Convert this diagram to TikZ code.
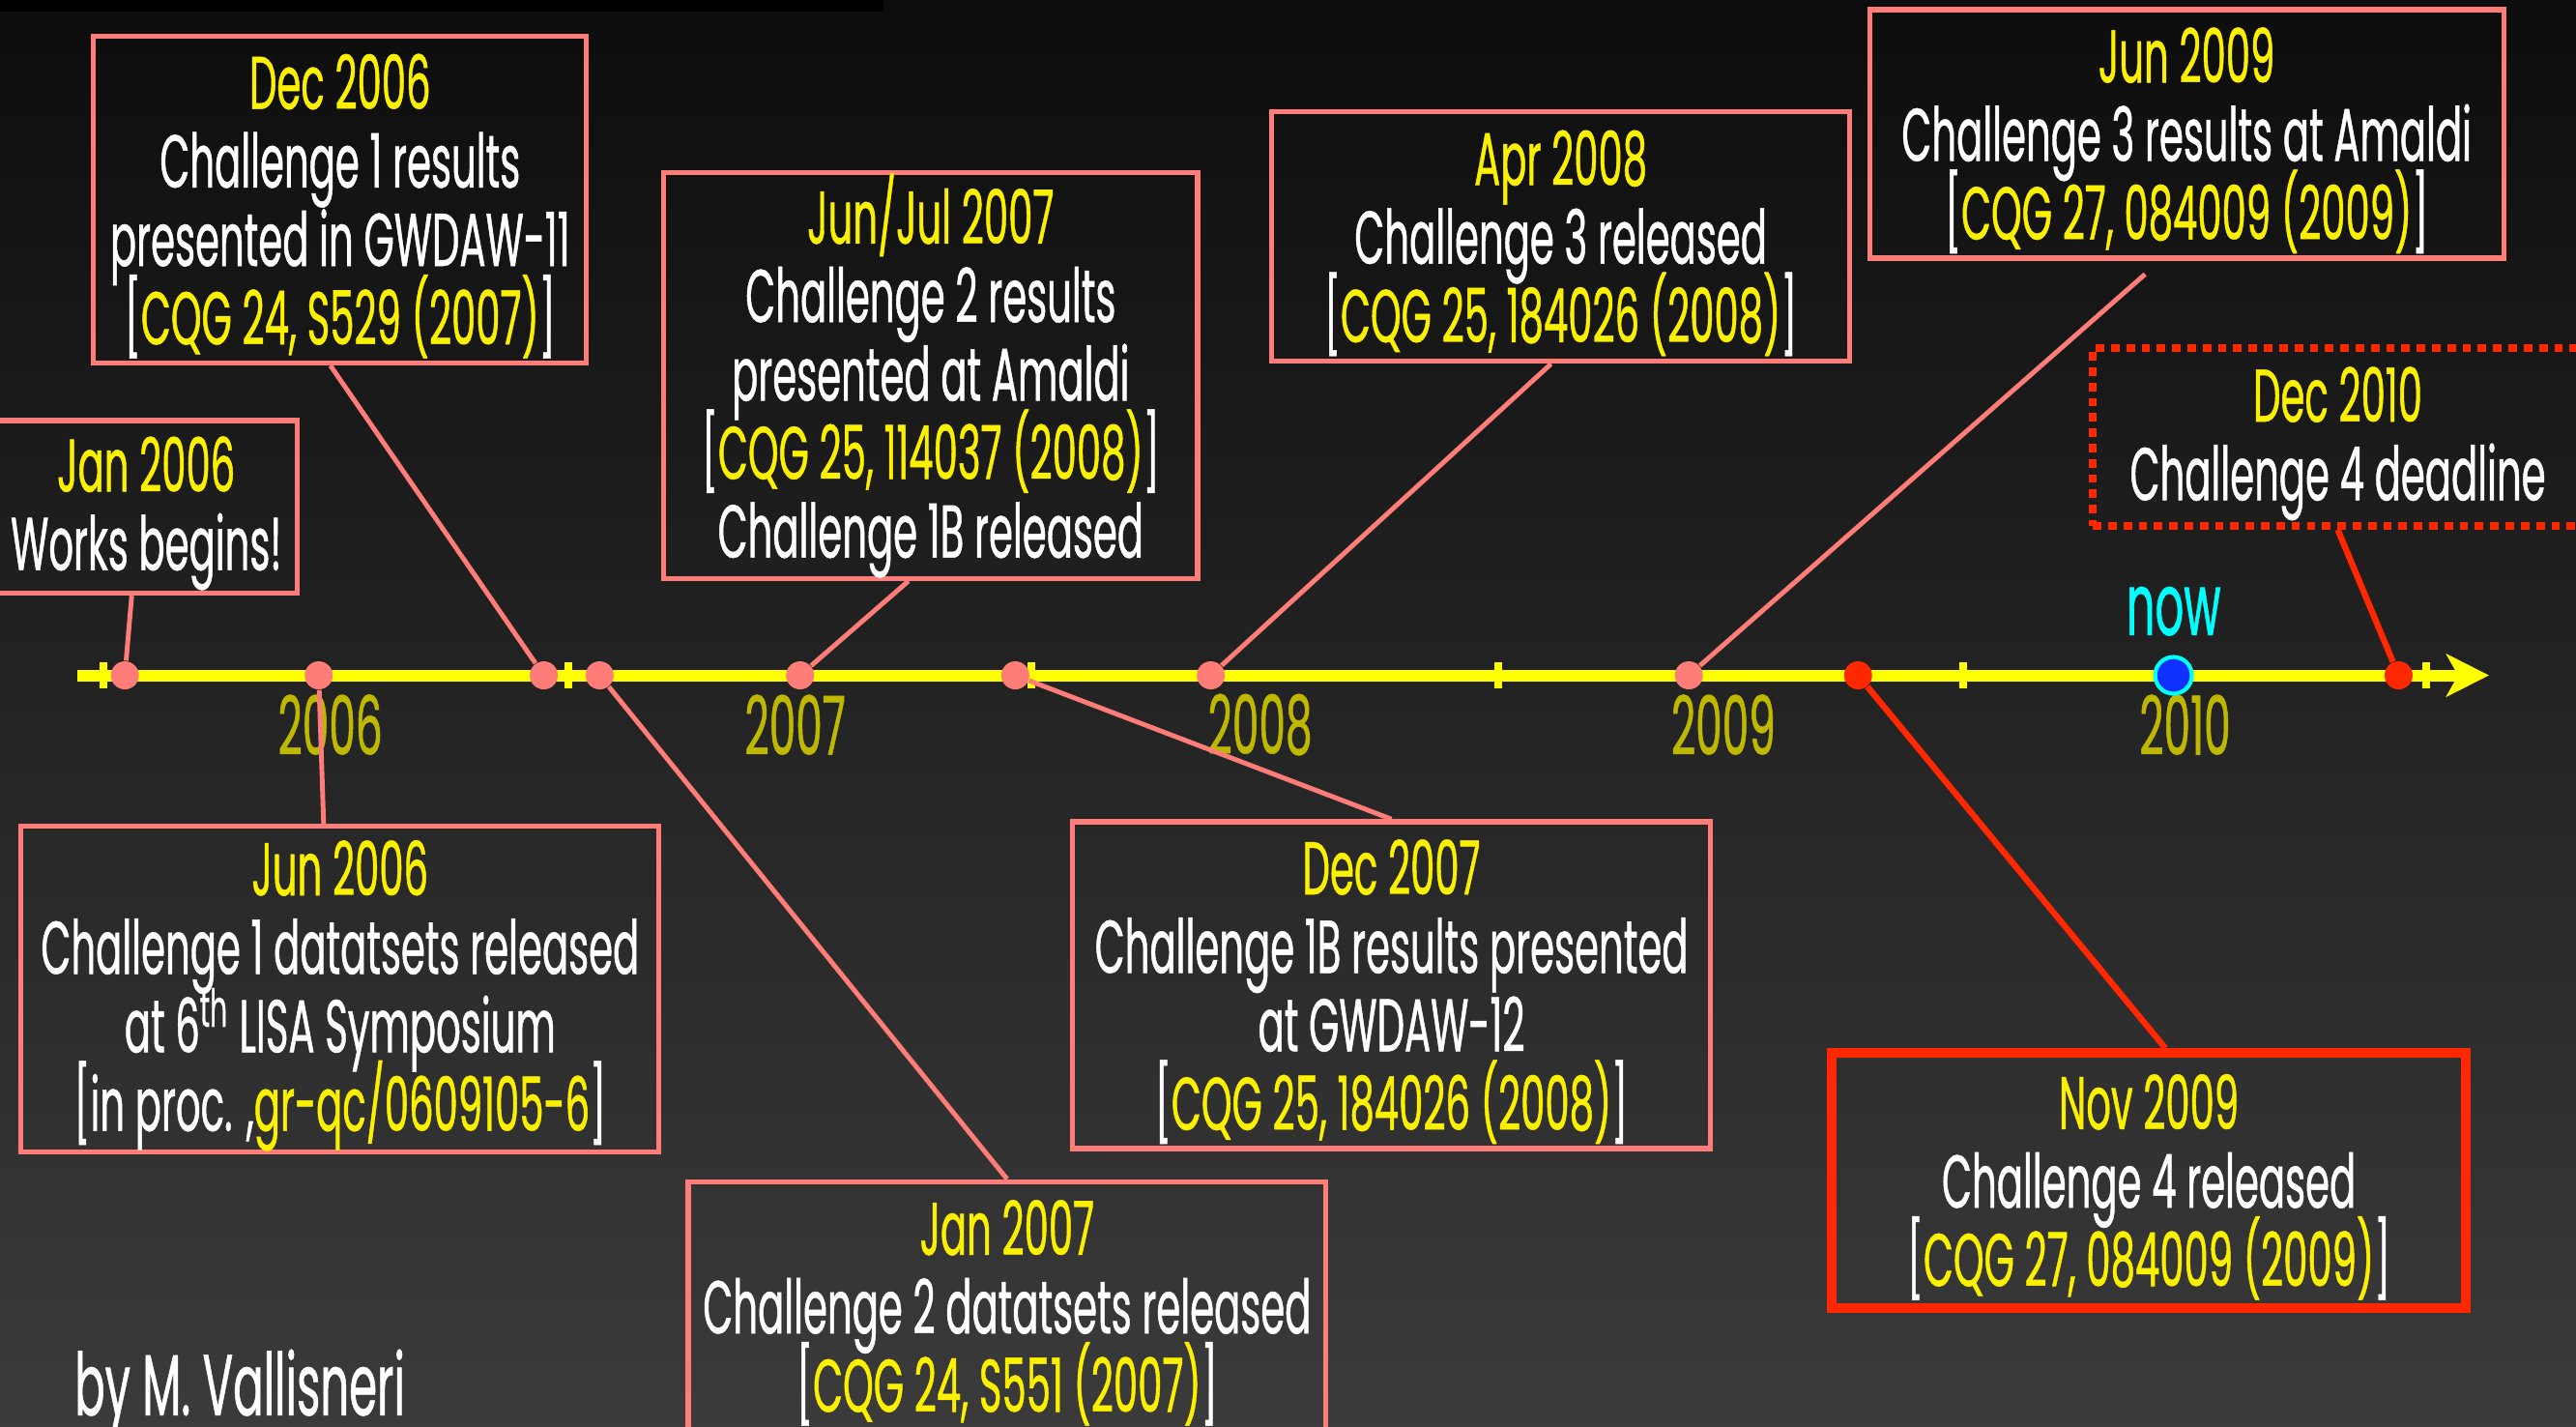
\documentclass[tikz,border=0pt]{standalone}
\usepackage{fontspec}
\setmainfont[FakeStretch=0.52,FakeBold=0.6]{Poppins}
\usetikzlibrary{arrows.meta}
\definecolor{salmon}{RGB}{255,125,120}
\definecolor{hotred}{RGB}{255,40,0}
\definecolor{dateyellow}{RGB}{250,240,0}
\definecolor{axisyellow}{RGB}{255,255,0}
\definecolor{yearcol}{RGB}{190,185,0}
\definecolor{nowblue}{RGB}{16,48,255}
\definecolor{nowcyan}{RGB}{0,255,255}
\newcommand{\yel}[1]{\textcolor{dateyellow}{#1}}
\newcommand{\when}[1]{\rule{0pt}{20pt}\textcolor{dateyellow}{#1}}
\newcommand{\boxfont}{\fontsize{22}{23.1}\selectfont\lineskiplimit=-50pt\relax}

\begin{document}
\begin{tikzpicture}[x=0.017cm,y=-0.017cm]
    \tikzset{every node/.style={font=\boxfont,text=white},
      event/.style={draw=salmon,line width=1.5pt,align=center,inner sep=0pt},
      current/.style={draw=hotred,line width=2.9pt,align=center,inner sep=0pt},
      future/.style={draw=hotred,line width=2.2pt,dash pattern=on 2.5pt off 2pt,align=center,inner sep=0pt},
      dot/.style={circle,fill=salmon,inner sep=0pt,minimum size=0.29cm},
      reddot/.style={dot,fill=hotred},
      nowdot/.style={circle,fill=nowblue,draw=nowcyan,line width=1.2pt,inner sep=0pt,minimum size=0.38cm},
      link/.style={draw=salmon,line width=1.4pt},
      redlink/.style={draw=hotred,line width=1.8pt},
      axis/.style={draw=axisyellow,line width=3.4pt,-{Stealth[length=0.44cm,width=0.44cm,inset=0.12cm]}},
      tick/.style={draw=axisyellow,line width=2.3pt},
      year/.style={text=yearcol,font=\fontsize{24}{26}\selectfont},
      big/.style={font=\fontsize{25.5}{28}\selectfont}};
    \useasboundingbox (0,0) rectangle (1568,868);
    \clip (0,0) rectangle (1568,868);
    \shade[top color=black!95,bottom color=black!77] (0,0) rectangle (1568,868);
    \fill[black] (0,0) rectangle (538,7);

    \coordinate (T0) at (47,411);
    \coordinate (T1) at (1515,411);
    \draw[axis] (T0) -- (T1);
    \foreach \x in {63,346,628,912,1195,1477}
        \draw[tick] (\x,403) -- (\x,419);
    \foreach \x/\yr in {201/2006,484/2007,767/2008,1049/2009,1330/2010}
        \node (Y\yr) at (\x,441) [year]{\yr};

    \node (pJan06) at (76,411) [dot]{};
    \node (pJun06) at (194,411) [dot]{};
    \node (pDec06) at (331,411) [dot]{};
    \node (pJan07) at (365,411) [dot]{};
    \node (pJul07) at (487,411) [dot]{};
    \node (pDec07) at (618,411) [dot]{};
    \node (pApr08) at (737,411) [dot]{};
    \node (pJun09) at (1028,411) [dot]{};
    \node (pNov09) at (1131,411) [reddot]{};
    \node (pDec10) at (1460,411) [reddot]{};
    \node (pNow) at (1323,411) [nowdot]{};
    \node (now) at (1323,372) [big,text=nowcyan]{now};

    \node (Jan06) at (89,308.5) [event,minimum width=3.13cm,minimum height=1.785cm]{\when{Jan 2006}\\Works begins!};
    \node (Dec06) at (207,121.5) [event,minimum width=5.1cm,minimum height=3.38cm]{\when{Dec 2006}\\Challenge 1 results\\presented in GWDAW-11\\{}[\yel{CQG 24, S529 (2007)}]};
    \node (Jul07) at (566.5,228.5) [event,minimum width=5.525cm,minimum height=4.2cm]{\when{Jun/Jul 2007}\\Challenge 2 results\\presented at Amaldi\\{}[\yel{CQG 25, 114037 (2008)}]\\Challenge 1B released};
    \node (Apr08) at (950,144) [event,minimum width=5.98cm,minimum height=2.58cm]{\when{Apr 2008}\\Challenge 3 released\\{}[\yel{CQG 25, 184026 (2008)}]};
    \node (Jun09) at (1331,81.5) [event,minimum width=6.56cm,minimum height=2.57cm]{\when{Jun 2009}\\Challenge 3 results at Amaldi\\{}[\yel{CQG 27, 084009 (2009)}]};
    \node (Dec10) at (1423,266) [future,minimum width=5.07cm,minimum height=1.84cm]{\when{Dec 2010}\\Challenge 4 deadline};
    \node (Jun06) at (207,602) [event,minimum width=6.6cm,minimum height=3.37cm]{\when{Jun 2006}\\Challenge 1 datatsets released\\at 6\textsuperscript{th} LISA Symposium\\{}[in proc. ,\yel{gr-qc/0609105-6}]};
    \node (Jan07) at (613,795) [event,minimum width=6.6cm,minimum height=2.58cm]{\when{Jan 2007}\\Challenge 2 datatsets released\\{}[\yel{CQG 24, S551 (2007)}]};
    \node (Dec07) at (847,599.5) [event,minimum width=6.6cm,minimum height=3.38cm]{\when{Dec 2007}\\Challenge 1B results presented\\at GWDAW-12\\{}[\yel{CQG 25, 184026 (2008)}]};
    \node (Nov09) at (1308,718.5) [current,minimum width=6.56cm,minimum height=2.64cm]{\when{Nov 2009}\\Challenge 4 released\\{}[\yel{CQG 27, 084009 (2009)}]};
    \node (credit) at (45,848) [big,anchor=west,inner sep=0pt]{by M. Vallisneri};

    \draw[link] ([xshift=-0.15cm]Jan06.south) -- (pJan06);
    \draw[link] ([xshift=-0.1cm]Dec06.south) -- (pDec06);
    \draw[link] ([xshift=-0.23cm]Jul07.south) -- (pJul07);
    \draw[link] ([xshift=-0.1cm]Apr08.south) -- (pApr08);
    \draw[link] ([xshift=-0.43cm,yshift=-0.14cm]Jun09.south) -- (pJun09);
    \draw[link] ([xshift=-0.17cm]Jun06.north) -- (pJun06);
    \draw[link] (Jan07.north) -- (pJan07);
    \draw[link] (Dec07.north) -- (pDec07);
    \draw[redlink] ([xshift=0.17cm]Nov09.north) -- (pNov09);
    \draw[redlink] (Dec10.south) -- (pDec10);
\end{tikzpicture}
\end{document}
